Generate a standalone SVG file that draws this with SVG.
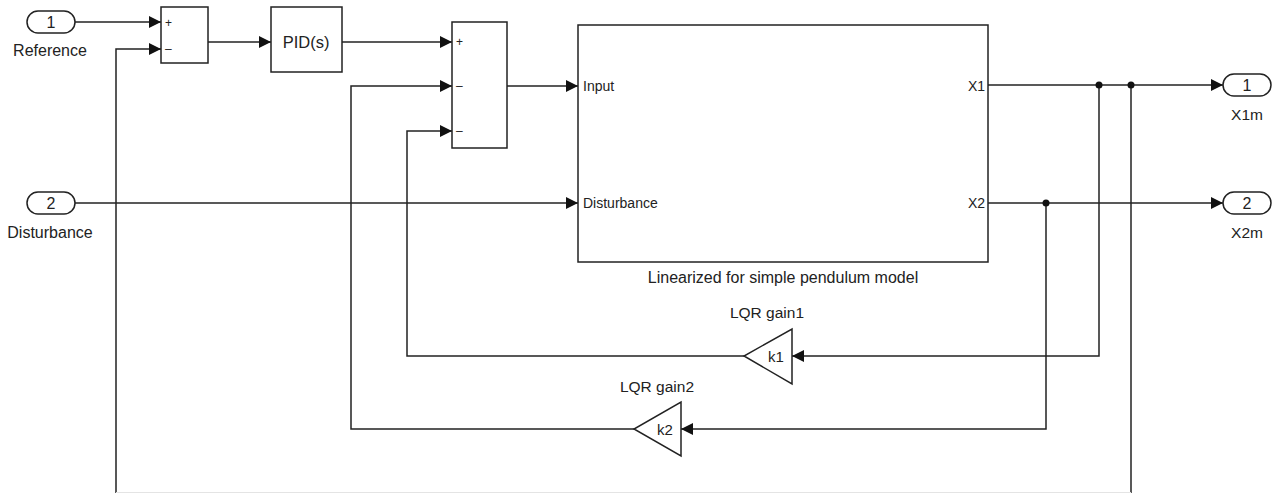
<svg xmlns="http://www.w3.org/2000/svg" width="1275" height="493" viewBox="0 0 1275 493">
<defs>
<marker id="arr" markerUnits="userSpaceOnUse" markerWidth="12" markerHeight="14" refX="12" refY="7" orient="auto">
<path d="M0,1 L12,7 L0,13 Z" fill="#111"/>
</marker>
<style>
.ln{fill:none;stroke:#222;stroke-width:1.5}
.bx{fill:#fff;stroke:#222;stroke-width:1.5}
.t{font-family:"Liberation Sans",Arial,sans-serif;fill:#222}
.lbl{font-size:16px;text-anchor:middle}
.lb2{font-size:15.5px;text-anchor:middle}
.pt{font-size:14px}
.sg{font-size:12px}
.num{font-size:16px;text-anchor:middle}
.dot{fill:#111}
</style>
</defs>
<rect width="1275" height="493" fill="#fff"/>

<g id="connectors">
<path class="ln" d="M75,22 H161" marker-end="url(#arr)"/>
<path class="ln" d="M208,42 H271" marker-end="url(#arr)"/>
<path class="ln" d="M342,42 H452" marker-end="url(#arr)"/>
<path class="ln" d="M507,86 H578" marker-end="url(#arr)"/>
<path class="ln" d="M75,203 H578" marker-end="url(#arr)"/>
<path class="ln" d="M988,85 H1223" marker-end="url(#arr)"/>
<path class="ln" d="M988,203 H1223" marker-end="url(#arr)"/>
<path class="ln" d="M1099,85 V356 H792" marker-end="url(#arr)"/>
<path class="ln" d="M744,356 H407 V131 H452" marker-end="url(#arr)"/>
<path class="ln" d="M1046,203 V429 H681" marker-end="url(#arr)"/>
<path class="ln" d="M634,429 H351 V86 H452" marker-end="url(#arr)"/>
<path class="ln" d="M1131,85 V493"/>
<path class="ln" d="M116,493 V49 H161" marker-end="url(#arr)"/>
<path d="M116,492.5 H1131" fill="none" stroke="#e4e4e4" stroke-width="1"/>
<circle class="dot" cx="1099" cy="85" r="3.5"/>
<circle class="dot" cx="1131" cy="85" r="3.5"/>
<circle class="dot" cx="1046" cy="203" r="3.5"/>
</g>

<g id="in1">
<rect class="bx" x="27" y="11" width="48" height="22" rx="11"/>
<text class="t num" x="51" y="28">1</text>
<text class="t lbl" x="50" y="56">Reference</text>
</g>

<g id="in2">
<rect class="bx" x="27" y="192" width="48" height="22" rx="11"/>
<text class="t num" x="51" y="209">2</text>
<text class="t lbl" x="50" y="238">Disturbance</text>
</g>

<g id="sum1">
<rect class="bx" x="161" y="7" width="47" height="56"/>
<text class="t sg" x="165" y="27">+</text>
<text class="t sg" x="165" y="53">–</text>
</g>

<g id="pid">
<rect class="bx" x="271" y="7" width="71" height="65"/>
<text class="t" x="306" y="48" font-size="16.5" text-anchor="middle">PID(s)</text>
</g>

<g id="sum2">
<rect class="bx" x="452" y="22" width="55" height="126"/>
<text class="t sg" x="456" y="46">+</text>
<text class="t sg" x="456" y="90">–</text>
<text class="t sg" x="456" y="135">–</text>
</g>

<g id="plant">
<rect class="bx" x="578" y="25" width="410" height="237"/>
<text class="t pt" x="583" y="91">Input</text>
<text class="t pt" x="583" y="208">Disturbance</text>
<text class="t pt" x="985" y="91" text-anchor="end">X1</text>
<text class="t pt" x="985" y="208" text-anchor="end">X2</text>
<text class="t lbl" x="783" y="283">Linearized for simple pendulum model</text>
</g>

<g id="out1">
<rect class="bx" x="1223" y="74" width="48" height="22" rx="11"/>
<text class="t num" x="1247" y="91">1</text>
<text class="t lb2" x="1247" y="120">X1m</text>
</g>

<g id="out2">
<rect class="bx" x="1223" y="192" width="48" height="22" rx="11"/>
<text class="t num" x="1247" y="209">2</text>
<text class="t lb2" x="1247" y="238">X2m</text>
</g>

<g id="k1">
<path class="bx" d="M792,329 L792,384 L744,356 Z"/>
<text class="t" x="776" y="362" font-size="15" text-anchor="middle">k1</text>
<text class="t lb2" x="767" y="318">LQR gain1</text>
</g>

<g id="k2">
<path class="bx" d="M681,402 L681,456 L634,429 Z"/>
<text class="t" x="665" y="435" font-size="15" text-anchor="middle">k2</text>
<text class="t lb2" x="657" y="392">LQR gain2</text>
</g>
</svg>
